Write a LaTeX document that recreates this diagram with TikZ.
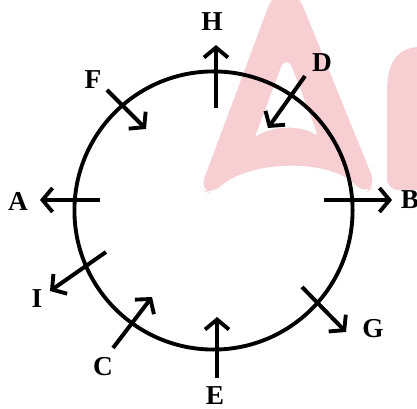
\documentclass[tikz,border=0pt]{standalone}
\usepackage{fontspec}
\setmainfont{Liberation Serif}
\usetikzlibrary{arrows.meta}
\definecolor{wmpink}{RGB}{247,206,209}
\tikzset{
  ring/.style={line width=2.9pt},
  arr/.style={line width=3pt, -{Straight Barb[length=7.5pt,width=18pt,line width=2.9pt]}},
  lbl/.style={font=\fontsize{20.5}{24}\selectfont\bfseries, inner sep=0pt},
  wm/.style={fill=wmpink}
}
\begin{document}
\begin{tikzpicture}[x=0.75pt,y=-0.75pt]
\useasboundingbox (0,0) rectangle (417,409);
% watermark
\fill[wm, rounded corners=9pt] (200,190) -- (273,-6) -- (298,-6) -- (376,186) -- (364,194) .. controls (330,158) and (250,160) .. (212,194) -- cycle;
\fill[white, rounded corners=3pt] (255,137) -- (283,62) -- (290,62) -- (318,136) .. controls (300,125) and (272,125) .. (255,137);
\fill[wm] (417,47) .. controls (396,49) and (387,64) .. (387,92) -- (387,178) .. controls (387,186) and (392,190) .. (400,190) -- (417,190) -- cycle;
% circle
\draw[ring] (213.5,210.5) circle[radius=104.3pt];
% coordinates
\coordinate (h1) at (216,108); \coordinate (h2) at (216,45);
\coordinate (f1) at (107,90);  \coordinate (f2) at (146,129);
\coordinate (d1) at (305,76);  \coordinate (d2) at (268,128);
\coordinate (a1) at (100,200); \coordinate (a2) at (40,200);
\coordinate (b1) at (324,200); \coordinate (b2) at (392,200);
\coordinate (i1) at (106,252); \coordinate (i2) at (50,291);
\coordinate (c1) at (113,348); \coordinate (c2) at (152,297);
\coordinate (e1) at (217,378); \coordinate (e2) at (217,317);
\coordinate (g1) at (302,287); \coordinate (g2) at (346,332);
% arrows
\draw[arr] (h1) -- (h2);
\draw[arr] (f1) -- (f2);
\draw[arr] (d1) -- (d2);
\draw[arr] (a1) -- (a2);
\draw[arr] (b1) -- (b2);
\draw[arr] (i1) -- (i2);
\draw[arr] (c1) -- (c2);
\draw[arr] (e1) -- (e2);
\draw[arr] (g1) -- (g2);
% labels
\node[lbl] (H) at (212,22) {H};
\node[lbl] (F) at (93,80) {F};
\node[lbl] (D) at (322,63) {D};
\node[lbl] (A) at (18,201) {A};
\node[lbl] (B) at (410,200) {B};
\node[lbl] (I) at (37,299) {I};
\node[lbl] (C) at (103,367) {C};
\node[lbl] (E) at (215,396) {E};
\node[lbl] (G) at (373,329) {G};
\end{tikzpicture}
\end{document}
